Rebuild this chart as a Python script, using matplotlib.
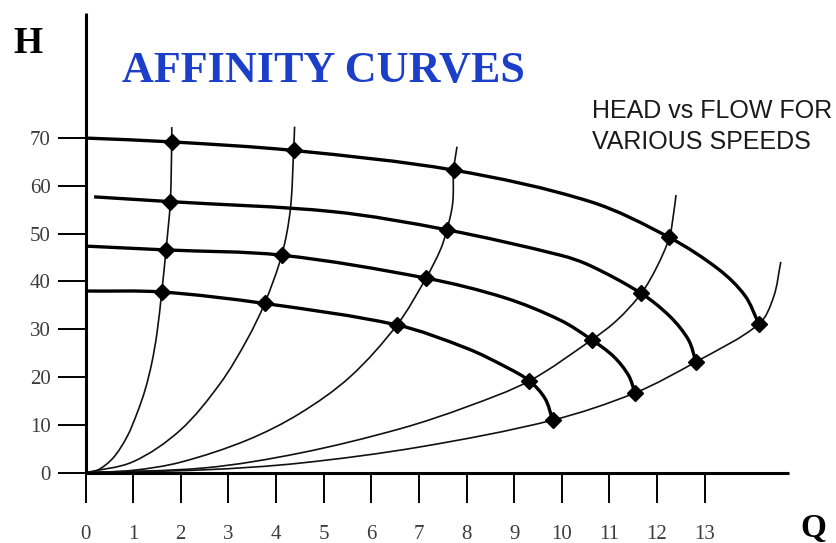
import numpy as np
import matplotlib
matplotlib.use("Agg")
import matplotlib.pyplot as plt
from matplotlib.path import Path
from matplotlib.patches import PathPatch

# head vs flow at four pump speeds (Q, H)
speed1_q = [0.0, 1.81, 4.37, 7.73, 10.6, 12.26, 13.3, 13.85, 14.14]
speed1_h = [70.0, 69.2, 67.4, 63.3, 56.7, 49.2, 42.5, 37.0, 31.1]
speed2_q = [0.18, 1.78, 5.2, 7.59, 9.97, 10.6, 11.67, 12.28, 12.66, 12.82]
speed2_h = [57.7, 56.7, 54.6, 50.8, 45.5, 43.3, 37.5, 32.6, 27.8, 23.2]
speed3_q = [0.0, 1.69, 4.12, 7.15, 8.8, 9.97, 10.63, 11.09, 11.4, 11.54]
speed3_h = [47.4, 46.6, 45.5, 40.7, 36.6, 31.9, 27.8, 24.3, 20.4, 16.7]
speed4_q = [0.0, 1.60, 3.76, 6.54, 8.01, 8.85, 9.32, 9.65, 9.81]
speed4_h = [38.0, 37.8, 35.4, 30.9, 26.0, 22.0, 19.2, 15.5, 11.0]

# system (affinity) curves from the origin
sys1_q = [0.0, 0.25, 0.58, 0.87, 1.08, 1.25, 1.39, 1.50, 1.60, 1.69, 1.78, 1.81, 1.81]
sys1_h = [0.0, 0.5, 3.1, 7.5, 12.4, 17.3, 22.9, 29.2, 37.8, 46.6, 56.7, 69.2, 72.3]
sys2_q = [0.0, 1.0, 1.99, 2.83, 3.39, 3.76, 4.12, 4.30, 4.37, 4.39]
sys2_h = [0.0, 2.3, 8.9, 18.7, 27.8, 35.4, 45.5, 55.0, 67.4, 72.4]
sys3_q = [0.0, 1.0, 2.0, 3.39, 4.5, 5.56, 6.54, 7.15, 7.45, 7.59, 7.71, 7.73, 7.80]
sys3_h = [0.0, 0.5, 2.2, 6.8, 12.4, 20.1, 30.9, 40.7, 46.6, 50.8, 56.4, 63.3, 68.2]
sys4_q = [0.0, 2.5, 4.5, 6.61, 8.01, 9.32, 10.63, 11.16, 11.67, 12.0, 12.26, 12.35, 12.4]
sys4_h = [0.0, 1.0, 4.1, 9.2, 13.8, 19.2, 27.8, 31.9, 37.5, 43.1, 49.2, 54.3, 58.1]
sys5_q = [0.0, 2.5, 4.5, 7.03, 9.81, 11.54, 12.82, 14.14, 14.45, 14.6]
sys5_h = [0.0, 0.6, 2.0, 5.4, 11.0, 16.7, 23.2, 31.1, 36.8, 44.1]

# operating points marked on each speed curve
marks1_q = [1.81, 4.37, 7.73, 12.26, 14.14]
marks1_h = [69.2, 67.4, 63.3, 49.2, 31.1]
marks2_q = [1.78, 7.59, 11.67, 12.82]
marks2_h = [56.7, 50.8, 37.5, 23.2]
marks3_q = [1.69, 4.12, 7.15, 10.63, 11.54]
marks3_h = [46.6, 45.5, 40.7, 27.8, 16.7]
marks4_q = [1.60, 3.76, 6.54, 9.32, 9.81]
marks4_h = [37.8, 35.4, 30.9, 19.2, 11.0]

x_ticks = list(range(0, 14))
y_ticks = list(range(0, 80, 10))


def smooth_path(ax, q, h):
    # cubic bezier through the points, tangents scaled by on-screen chord length
    pts = np.column_stack([q, h]).astype(float)
    px = ax.transData.transform(pts)
    t = np.concatenate([[0.0], np.cumsum(np.hypot(*np.diff(px, axis=0).T))])
    n = len(pts)
    tang = np.zeros_like(pts)
    for i in range(n):
        a, b = max(i - 1, 0), min(i + 1, n - 1)
        tang[i] = (pts[b] - pts[a]) / (t[b] - t[a])
    verts = [pts[0]]
    codes = [Path.MOVETO]
    for i in range(n - 1):
        d = t[i + 1] - t[i]
        verts += [pts[i] + tang[i] * d / 3, pts[i + 1] - tang[i + 1] * d / 3, pts[i + 1]]
        codes += [Path.CURVE4] * 3
    return Path(verts, codes)


fig = plt.figure(figsize=(8.37, 5.43), dpi=100)
ax = fig.add_axes([0.1022, 0.1295, 0.8409, 0.846])
ax.set_xlim(0, 14.78)
ax.set_ylim(0, 96.1)

for s in ["top", "right"]:
    ax.spines[s].set_visible(False)
for s in ["left", "bottom"]:
    ax.spines[s].set_linewidth(2.2)
    ax.spines[s].set_capstyle("butt")

serif = ["Liberation Serif", "DejaVu Serif"]
ax.set_xticks(x_ticks)
ax.set_yticks(y_ticks)
ax.set_xticklabels([str(v) for v in x_ticks], family=serif, fontsize=15, color="#3c3c3c")
ax.set_yticklabels([str(v) for v in y_ticks], family=serif, fontsize=15, color="#3c3c3c")
ax.tick_params(axis="x", direction="out", length=21.6, width=1.4, pad=16)
ax.tick_params(axis="y", direction="out", length=20, width=1.4, pad=5)

for q, h in [(sys1_q, sys1_h), (sys2_q, sys2_h), (sys3_q, sys3_h),
             (sys4_q, sys4_h), (sys5_q, sys5_h)]:
    ax.add_patch(PathPatch(smooth_path(ax, q, h), fill=False, lw=1.2,
                           edgecolor="#111111", clip_on=False))

for q, h in [(speed1_q, speed1_h), (speed2_q, speed2_h),
             (speed3_q, speed3_h), (speed4_q, speed4_h)]:
    ax.add_patch(PathPatch(smooth_path(ax, q, h), fill=False, lw=2.4,
                           edgecolor="black", capstyle="butt", clip_on=False))

for q, h in [(marks1_q, marks1_h), (marks2_q, marks2_h),
             (marks3_q, marks3_h), (marks4_q, marks4_h)]:
    ax.plot(q, h, linestyle="none", marker="D", markersize=8.5,
            color="black", clip_on=False, zorder=5)

fig.text(0.0335, 1 - 53 / 543, "H", family=serif, fontweight="bold", fontsize=27,
         ha="center", va="baseline")
fig.text(0.9713, 1 - 537 / 543, "Q", family=serif, fontweight="bold", fontsize=24,
         ha="center", va="baseline")
fig.text(0.386, 1 - 81.7 / 543, "AFFINITY CURVES", family=serif, fontweight="bold",
         fontsize=31.8, color="#1c3fca", ha="center", va="baseline")

sans = ["Liberation Sans", "DejaVu Sans"]
fig.text(0.707, 1 - 118.3 / 543, "HEAD vs FLOW FOR", family=sans, fontsize=18,
         color="#1a1a1a", ha="left", va="baseline")
fig.text(0.707, 1 - 149.3 / 543, "VARIOUS SPEEDS", family=sans, fontsize=18,
         color="#1a1a1a", ha="left", va="baseline")

fig.savefig("out.png", dpi=100)
